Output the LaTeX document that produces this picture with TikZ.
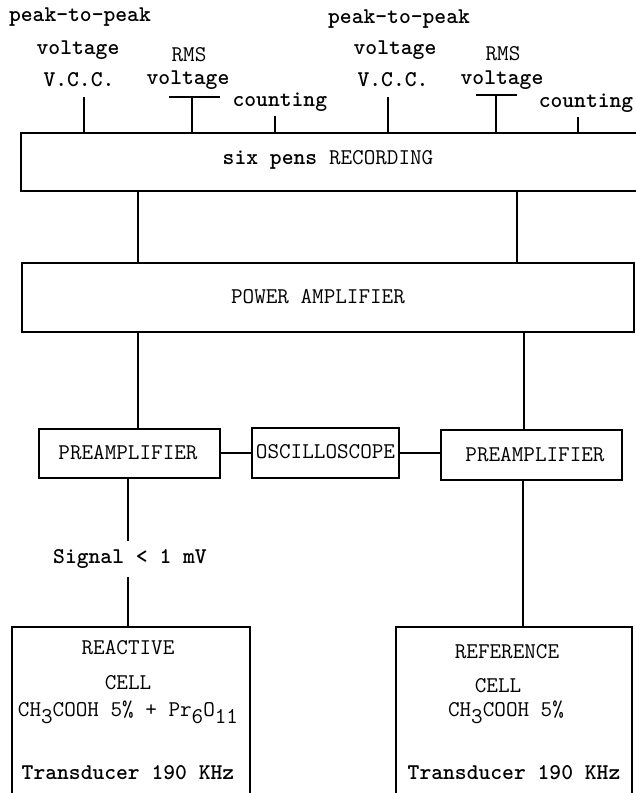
\documentclass[tikz,border=0pt]{standalone}
\usepackage{fontspec}
\newcommand{\sbs}[1]{\raisebox{-7pt}{#1}}
\begin{document}
\begin{tikzpicture}[x=1pt,y=-1pt,
  line width=1.2pt,
  box/.style={draw,line width=1.2pt,inner sep=0pt,anchor=center},
  lbl/.style={inner sep=0pt,anchor=center,font=\fontsize{22.5}{26}\selectfont\ttfamily\bfseries},
  captxt/.style={inner sep=0pt,anchor=center,font=\fontsize{22.5}{26}\selectfont\ttfamily}]
\useasboundingbox (0,0) rectangle (636,793);
\clip (0,0) rectangle (636,793);

% boxes
\node[box,minimum width=629pt,minimum height=58pt] (rec) at (335.5,162) {};
\node[box,minimum width=612pt,minimum height=69pt] (pow) at (328,297.5) {};
\node[box,minimum width=181pt,minimum height=49pt] (preL) at (129.5,453.5) {};
\node[box,minimum width=147pt,minimum height=50pt] (osc) at (325.5,453) {};
\node[box,minimum width=181pt,minimum height=50pt] (preR) at (531.5,455) {};
\node[box,minimum width=238pt,minimum height=173pt] (react) at (131,713.5) {};
\node[box,minimum width=236pt,minimum height=173pt] (refc) at (514,713.5) {};

% box texts
\node[lbl] (trec) at (328,160) {six pens \mdseries RECORDING};
\node[captxt] (tpow) at (318,297) {POWER AMPLIFIER};
\node[captxt] (tpreL) at (128,453) {PREAMPLIFIER};
\node[captxt] (tosc) at (325.5,452) {OSCILLOSCOPE};
\node[captxt] (tpreR) at (535,455) {PREAMPLIFIER};
\node[captxt] (r1) at (128,648) {REACTIVE};
\node[captxt] (r2) at (128,683) {CELL};
\node[captxt,anchor=base] (r3) at (128,716) {CH\sbs{3}COOH 5\% + Pr\sbs{6}O\sbs{11}};
\node[lbl] (r4) at (128,773) {Transducer 190 KHz};
\node[captxt] (f1) at (507,652) {REFERENCE};
\node[captxt] (f2) at (498,686) {CELL};
\node[captxt,anchor=base] (f3) at (506,716) {CH\sbs{3}COOH 5\%};
\node[lbl] (f4) at (514,773) {Transducer 190 KHz};

% top labels left
\node[lbl] (pp1) at (80,17) {peak-to-peak};
\node[lbl] (v1) at (78,50) {voltage};
\node[lbl] (vcc1) at (79,80) {V.C.C.};
\node[captxt] (rms1) at (189,55) {RMS};
\node[lbl] (rv1) at (188,80) {voltage};
\node[lbl,anchor=west] (cnt1) at (232,102) {counting};
% top labels right
\node[lbl] (pp2) at (399,19) {peak-to-peak};
\node[lbl] (v2) at (395,50) {voltage};
\node[lbl] (vcc2) at (393,80) {V.C.C.};
\node[captxt] (rms2) at (503,54) {RMS};
\node[lbl] (rv2) at (502,80) {voltage};
\node[lbl] (cnt2) at (586,103) {counting};

% tick coordinates
\coordinate (t1) at (84,97);
\coordinate (t2) at (192,97);
\coordinate (t2a) at (169,97);
\coordinate (t2b) at (220,97);
\coordinate (t3) at (275,116);
\coordinate (t4) at (388,97);
\coordinate (t5) at (496,95);
\coordinate (t5a) at (476,95);
\coordinate (t5b) at (517,95);
\coordinate (t6) at (578,117);
\draw (t1) -- (t1 |- rec.north);
\draw (t2a) -- (t2b);
\draw (t2) -- (t2 |- rec.north);
\draw (t3) -- (t3 |- rec.north);
\draw (t4) -- (t4 |- rec.north);
\draw (t5a) -- (t5b);
\draw (t5) -- (t5 |- rec.north);
\draw (t6) -- (t6 |- rec.north);

% vertical connectors
\coordinate (xa) at (138,0);
\coordinate (xb) at (517,0);
\coordinate (xc) at (524,0);
\coordinate (xd) at (128,0);
\coordinate (xe) at (523,0);
\draw (rec.south -| xa) -- (pow.north -| xa);
\draw (rec.south -| xb) -- (pow.north -| xb);
\draw (pow.south -| xa) -- (preL.north -| xa);
\draw (pow.south -| xc) -- (preR.north -| xc);
\draw (preL.east |- osc.west) -- (osc.west);
\draw (osc.east) -- (preR.west |- osc.east);

\node[lbl,minimum height=34pt] (sig) at (130,559) {Signal < 1 mV};
\draw (preL.south -| xd) -- (sig.north -| xd);
\draw (sig.south -| xd) -- (react.north -| xd);
\draw (preR.south -| xe) -- (refc.north -| xe);
\end{tikzpicture}
\end{document}
